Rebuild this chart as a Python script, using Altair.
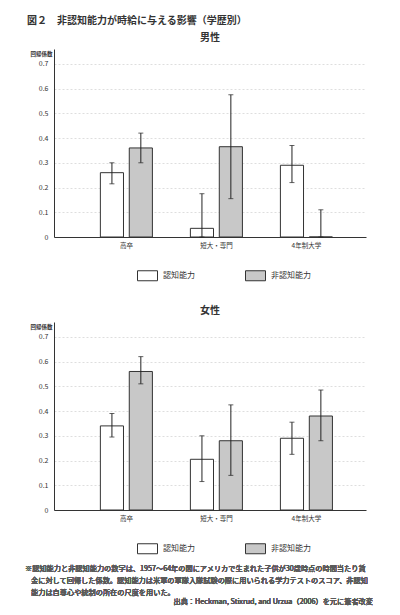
import altair as alt
import pandas as pd

categories = ["高卒", "短大・専門", "4年制大学"]
abilities = ["認知能力", "非認知能力"]

# 値は (高卒-認知, 高卒-非認知, 短大-認知, 短大-非認知, 4年-認知, 4年-非認知)
male_values = [0.26, 0.36, 0.035, 0.365, 0.29, 0.0]
male_lower = [0.215, 0.30, 0.0, 0.155, 0.22, 0.0]
male_upper = [0.30, 0.42, 0.175, 0.575, 0.37, 0.11]

female_values = [0.34, 0.56, 0.205, 0.28, 0.29, 0.38]
female_lower = [0.295, 0.51, 0.115, 0.14, 0.225, 0.28]
female_upper = [0.39, 0.62, 0.30, 0.425, 0.355, 0.485]

y_ticks = [0, 0.1, 0.2, 0.3, 0.4, 0.5, 0.6, 0.7]

note_first = "※認知能力と非認知能力の数字は、1957～64年の間にアメリカで生まれた子供が30歳時点の時間当たり賃"
note_rest = [
    "金に対して回帰した係数。認知能力は米軍の軍隊入隊試験の際に用いられる学力テストのスコア、非認知",
    "能力は自尊心や統制の所在の尺度を用いた。",
]
source = "出典：Heckman, Stixrud, and Urzua（2006）を元に筆者改変"

FONT = "Noto Sans CJK JP"
INK = "#333333"
NOTE = "#5a5a5a"


def make_frame(values, lower, upper):
    rows = []
    i = 0
    for cat in categories:
        for ab in abilities:
            rows.append(
                {"category": cat, "ability": ab, "value": values[i],
                 "lower": lower[i], "upper": upper[i]}
            )
            i += 1
    return pd.DataFrame(rows)


def y_enc(field):
    return alt.Y(
        field,
        scale=alt.Scale(domain=[0, 0.76], nice=False, zero=True),
        axis=alt.Axis(values=y_ticks, format=".1~f", ticks=False,
                      labelOverlap=False, domainColor=INK, labelFontSize=7,
                      labelColor=INK, labelPadding=6, gridColor="#d6d6d6",
                      gridDash=[2, 2], gridWidth=0.8,
                      title="回帰係数", titleAngle=0, titleAlign="right",
                      titleBaseline="middle", titleX=-2, titleY=4,
                      titleFontSize=5.5, titleColor=INK),
    )


def panel(df, title):
    base = alt.Chart(df).encode(
        x=alt.X(
            "category:N",
            sort=categories,
            title=None,
            scale=alt.Scale(paddingInner=0.422, paddingOuter=0.444, align=0.58),
            axis=alt.Axis(labelAngle=0, ticks=False, domainColor=INK,
                          labelFontSize=6.5, labelColor=INK, labelPadding=5,
                          grid=False),
        ),
        xOffset=alt.XOffset("ability:N", sort=abilities,
                            scale=alt.Scale(paddingInner=0.2, paddingOuter=0)),
    )
    bars = base.mark_bar(stroke=INK, strokeWidth=1).encode(
        y=y_enc("value:Q"),
        fill=alt.Color(
            "ability:N",
            sort=abilities,
            scale=alt.Scale(domain=abilities, range=["#ffffff", "#c8c8c8"]),
            legend=alt.Legend(
                title=None, orient="none", direction="horizontal",
                legendX=83, legendY=216,
                symbolType="M-1,-0.5H1V0.5H-1Z", symbolSize=400,
                symbolStrokeColor=INK, symbolStrokeWidth=1, symbolOpacity=1,
                labelFontSize=8, labelColor=INK, labelOffset=5,
                columnPadding=48,
            ),
        ),
    )
    whisker = base.mark_rule(color="#222", strokeWidth=1).encode(
        y=y_enc("lower:Q"), y2="upper:Q"
    )
    cap_top = base.mark_tick(color="#222", size=5, thickness=1).encode(
        y=y_enc("upper:Q")
    )
    cap_low = base.mark_tick(color="#222", size=5, thickness=1).encode(
        y=y_enc("lower:Q")
    )
    return alt.layer(bars, whisker, cap_top, cap_low).properties(
        width=312, height=188,
        title=alt.TitleParams(title, fontSize=10, fontWeight="bold",
                              color=INK, anchor="middle", offset=6),
    )


male = panel(make_frame(male_values, male_lower, male_upper), "男性")

female_df = make_frame(female_values, female_lower, female_upper)
note1 = alt.Chart(female_df).mark_text(
    text=note_first, align="left", baseline="middle", fontSize=7.2,
    color=NOTE, fontWeight="normal",
).encode(x=alt.value(-29), y=alt.value(247))
note2 = alt.Chart(female_df).mark_text(
    text=note_rest, align="left", baseline="middle", fontSize=7.2,
    color=NOTE, fontWeight="normal", lineHeight=11.5,
).encode(x=alt.value(-23), y=alt.value(259))
note3 = alt.Chart(female_df).mark_text(
    text=source, align="right", baseline="middle", fontSize=7.2,
    color=NOTE, fontWeight="normal",
).encode(x=alt.value(319), y=alt.value(280))
female = alt.layer(panel(female_df, "女性"), note1, note2, note3)

chart = (
    alt.vconcat(male, female, spacing=23)
    .resolve_legend(fill="independent")
    .resolve_scale(fill="independent")
    .properties(
        title=alt.TitleParams(
            "図２　非認知能力が時給に与える影響（学歴別）",
            anchor="start", fontSize=10, fontWeight="bold", color=INK,
            offset=7, dx=2,
        ),
        padding={"left": 17, "top": 8, "right": 5, "bottom": 5},
    )
    .configure(font=FONT)
    .configure_view(stroke=None)
)

chart.save("out.html", embed_options={"renderer": "svg", "actions": False})
